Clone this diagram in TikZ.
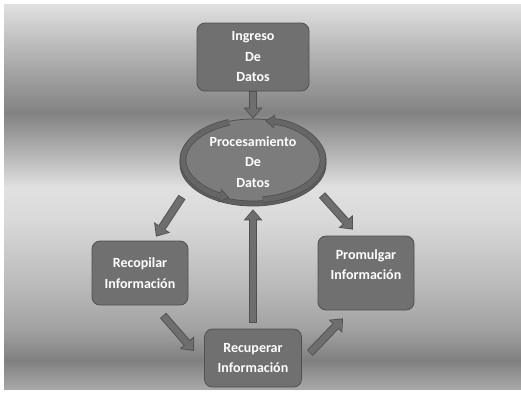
\documentclass[tikz,border=0pt]{standalone}
\usepackage{fontspec}
\setmainfont{Carlito}
\usetikzlibrary{arrows.meta,shapes.geometric}

\definecolor{boxfill}{HTML}{707070}
\definecolor{boxline}{HTML}{505050}
\definecolor{facefill}{HTML}{7C7C7C}
\definecolor{rimfill}{HTML}{606060}
\definecolor{arrfill}{HTML}{6E6E6E}
\definecolor{ringfill}{HTML}{666666}

\begin{document}
\begin{tikzpicture}[x=1pt, y=1pt,
	stepbox/.style={draw=boxline, fill=boxfill, rounded corners=8pt, line width=0.8pt,
		text=white, font=\bfseries\fontsize{14}{20.5}\selectfont, align=center, inner sep=0pt},
	blockarr/.style={draw=arrfill, line width=6.4pt,
		-{Triangle[width=15.5pt,length=8.5pt,line width=0pt]}, shorten >=1.5pt, shorten <=0.8pt,
		preaction={draw=boxline, line width=8.2pt,
			-{Triangle[width=19pt,length=11pt,line width=0pt]}, shorten >=0pt, shorten <=0pt}},
	ringarr/.style={draw=ringfill, line width=5pt,
		-{Triangle[width=11pt,length=7.5pt,line width=0pt]}, shorten >=1.4pt,
		preaction={draw=boxline, line width=6.6pt,
			-{Triangle[width=14pt,length=9.5pt,line width=0pt]}, shorten >=0pt}}]

	\useasboundingbox (0,0) rectangle (521,-394);
	\fill[white] (0,0) rectangle (521,-394);
	% metallic background
	\foreach \ya/\ga/\yb/\gb in {4/88/40/75,40/75/75/63,75/63/113/51,113/51/150/69,150/69/187/88,
		187/88/220/85,220/85/290/72,290/72/330/63,330/63/360/50,360/50/389/66}
		\shade[top color=white!\ga!black, bottom color=white!\gb!black] (4,-\ya) rectangle (521,-\yb-0.4);

	\node[stepbox, minimum width=112pt, minimum height=68pt] (ingreso) at (253,-57) {Ingreso\\De\\Datos};

	% cylinder under the ellipse
	\fill[rimfill, draw=boxline, line width=0.8pt] (253,-164) ellipse [x radius=73pt, y radius=42pt];
	\node[stepbox, ellipse, fill=facefill, minimum width=146pt, minimum height=82pt] (proc) at (253,-160) {};
	\draw[ringarr] ([shift={(110:70pt and 40pt)}]proc.center) arc [start angle=110, end angle=250, x radius=70pt, y radius=40pt];
	\draw[ringarr] ([shift={(278:70pt and 40pt)}]proc.center) arc [start angle=278, end angle=440, x radius=70pt, y radius=40pt];
	\node[stepbox, draw=none, fill=none] at ([yshift=-2pt]proc.center) {Procesamiento\\De\\Datos};

	\node[stepbox, minimum width=96pt, minimum height=64pt] (recop) at (140,-273) {Recopilar\\Información};
	\node[stepbox, minimum width=96pt, minimum height=74pt, text depth=17pt] (prom) at (366,-273) {Promulgar\\Información};
	\node[stepbox, minimum width=97pt, minimum height=58pt] (recup) at (253,-358) {Recuperar\\Información};

	\draw[blockarr] (ingreso.south) -- (proc.north);
	\draw[blockarr] ([shift={(-71pt,-37pt)}]proc.center) -- ([shift={(16pt,4pt)}]recop.north);
	\draw[blockarr] ([shift={(69pt,-35pt)}]proc.center) -- ([shift={(-13pt,6pt)}]prom.north);
	\draw[blockarr] ([shift={(23pt,-10pt)}]recop.south) -- ([shift={(-10pt,7pt)}]recup.west);
	\draw[blockarr] ([shift={(8pt,5pt)}]recup.east) -- ([shift={(-23pt,-8pt)}]prom.south);
	\draw[blockarr] ([yshift=6pt]recup.north) -- ([yshift=-8pt]proc.south);
\end{tikzpicture}
\end{document}
